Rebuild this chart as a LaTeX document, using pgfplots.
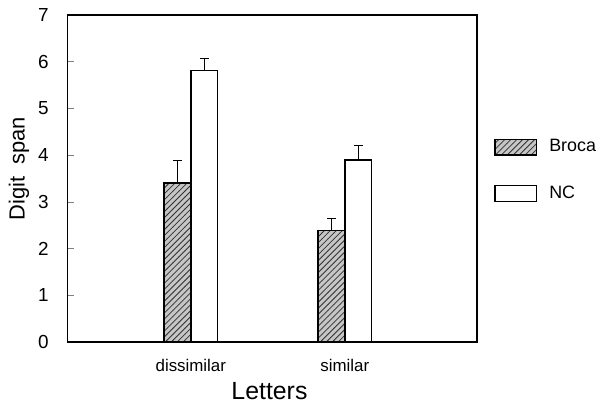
\documentclass[border=0pt]{standalone}
\usepackage{pgfplots}
\pgfplotsset{compat=1.18}
\usepackage{fontspec}
\setmainfont{Liberation Sans}
\usetikzlibrary{patterns}
\begin{document}
\begin{tikzpicture}
\begin{axis}[
  scale only axis, width=206pt, height=164.5pt,
  xmin=0.2, xmax=2.858, ymin=0, ymax=7,
  ybar, bar width=0.174,
  ytick={0,1,2,3,4,5,6,7}, xtick={1,2}, xticklabels={dissimilar,similar},
  ytick pos=left, xtick pos=bottom,
  x tick style={draw=none},
  major tick length=3pt,
  tick align=inside,
  axis line style={line width=0.8pt},
  /pgf/number format/assume math mode=true,
  yticklabel style={font=\fontsize{9.5}{10}\selectfont, xshift=-6pt},
  xticklabel style={font=\fontsize{8.5}{9}\selectfont, yshift=-5pt},
  xlabel={Letters}, ylabel={Digit\ \ span},
  xlabel style={font=\fontsize{12.5}{14}\selectfont, at={(axis description cs:0.493,-0.149)}, anchor=center},
  ylabel style={font=\fontsize{11}{13}\selectfont, at={(axis description cs:-0.119,0.53)}, anchor=center},
  legend image code/.code={\draw[#1] (0pt,-4pt) rectangle (21pt,4pt);},
  legend style={at={(1.041,0.632)}, anchor=north west, draw=none, fill=none, inner sep=0pt,
    font=\fontsize{9}{10}\selectfont, /tikz/row sep=11.5pt,
    /tikz/every odd column/.append style={column sep=4pt}},
  legend cell align=left,
  error bars/y dir=plus, error bars/y explicit,
  error bars/error bar style={line width=0.6pt, black},
  error bars/error mark options={rotate=90, mark size=2.25pt, line width=0.6pt, black},
]
\addplot[bar shift=-0.087, draw=black, line width=0.7pt, fill=gray!45,
  postaction={pattern=north east lines, pattern color=black!80}]
  coordinates {(1,3.40) +- (0,0.49) (2,2.38) +- (0,0.26)};
\addlegendentry{Broca}
\addplot[bar shift=0.087, draw=black, line width=0.7pt, fill=white]
  coordinates {(1,5.81) +- (0,0.25) (2,3.89) +- (0,0.32)};
\addlegendentry{NC}
\end{axis}
\path ([xshift=-34pt,yshift=-31.5pt]current axis.south west) rectangle ([xshift=60pt,yshift=7.5pt]current axis.north east);
\end{tikzpicture}
\end{document}
